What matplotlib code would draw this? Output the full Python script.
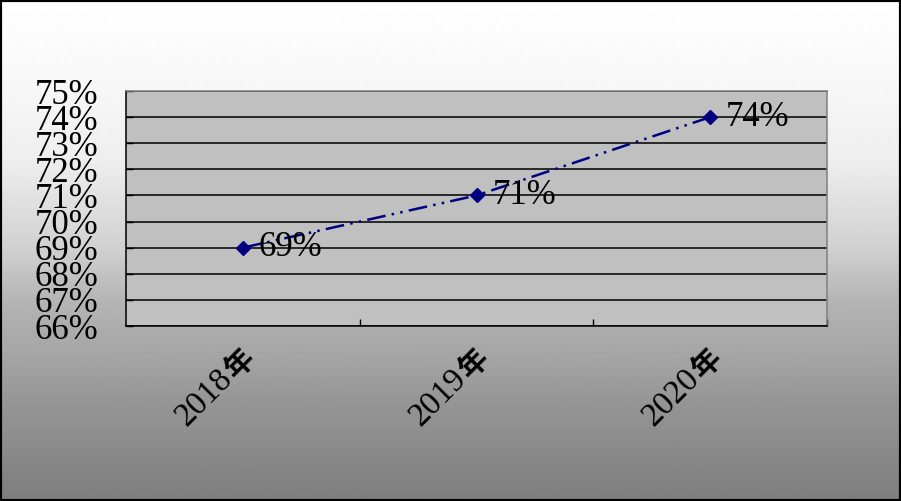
import matplotlib

matplotlib.use("Agg")

import matplotlib.pyplot as plt  # noqa: E402
import numpy as np  # noqa: E402
from matplotlib.patches import Rectangle  # noqa: E402

# chart data
years = ["2018", "2019", "2020"]
year_suffix = "年"
rates = [69, 71, 74]
y_ticks = list(range(66, 76))

SERIF = "Liberation Serif"
CJK = "Noto Sans CJK SC"
NAVY = "#000080"
FS = 25

fig = plt.figure(figsize=(9.01, 5.01), dpi=100)

# vertical white -> grey background gradient
bg = fig.add_axes([0, 0, 1, 1], zorder=0)
grad_pos = [0.0, 0.16, 0.32, 0.5, 0.6, 0.66, 0.72, 0.8, 1.0]
grad_val = [255, 248, 238, 208, 181, 172, 164, 150, 126]
rows = np.interp(np.linspace(0, 1, 501), grad_pos, grad_val) / 255.0
img = np.repeat(rows[:, None], 2, axis=1)
bg.imshow(img, cmap="gray", vmin=0, vmax=1, aspect="auto", extent=[0, 1, 0, 1])
bg.set_axis_off()

ax = fig.add_axes([126 / 901, 1 - 326 / 501, 701 / 901, 235 / 501], zorder=1)
ax.set_facecolor("#C0C0C0")
ax.set_xlim(-0.5, len(years) - 0.5)
ax.set_ylim(y_ticks[0], y_ticks[-1])

ax.set_yticks(y_ticks)
ax.set_yticklabels([f"{t}%" for t in y_ticks], family=SERIF, fontsize=FS)
ax.tick_params(axis="y", direction="in", length=5, width=1, pad=20, color="black")
ax.yaxis.grid(True, color="black", lw=1.1)
ax.set_axisbelow(True)

ax.set_xticks([i + 0.5 for i in range(len(years))])
ax.set_xticklabels([])
ax.tick_params(axis="x", direction="in", length=5, width=1, color="black")

for side in ("top", "right"):
    ax.spines[side].set_color("#808080")
for side in ("left", "bottom"):
    ax.spines[side].set_color("black")
for sp in ax.spines.values():
    sp.set_linewidth(1.1)

x = np.arange(len(years))
ax.plot(x, rates, color=NAVY, lw=1.8, linestyle=(0, (7.5, 2.5, 1, 2.5, 1, 2.5)),
        marker="D", markersize=7.5, mfc=NAVY, mec=NAVY, zorder=3)

for i, v in enumerate(rates):
    ax.annotate(f"{v}%", xy=(i, v), xytext=(16, 0), textcoords="offset pixels",
                ha="left", va="center", family=SERIF, fontsize=FS, zorder=4)

# rotated category labels: serif digits + bold CJK suffix
trans = ax.get_xaxis_transform()
for i, yr in enumerate(years):
    ax.annotate(yr, xy=(i, 0), xycoords=trans, xytext=(-9, -54),
                textcoords="offset pixels", ha="right", va="baseline",
                rotation=45, rotation_mode="anchor", family=SERIF, fontsize=FS - 1,
                annotation_clip=False)
    ax.annotate(year_suffix, xy=(i, 0), xycoords=trans, xytext=(-7, -54),
                textcoords="offset pixels", ha="left", va="baseline",
                rotation=45, rotation_mode="anchor", family=CJK,
                fontweight="bold", fontsize=FS - 4, annotation_clip=False)

fig.add_artist(Rectangle((0, 0), 1, 1, transform=fig.transFigure, fill=False,
                         ec="black", lw=3))

fig.savefig("out.png", dpi=100)
